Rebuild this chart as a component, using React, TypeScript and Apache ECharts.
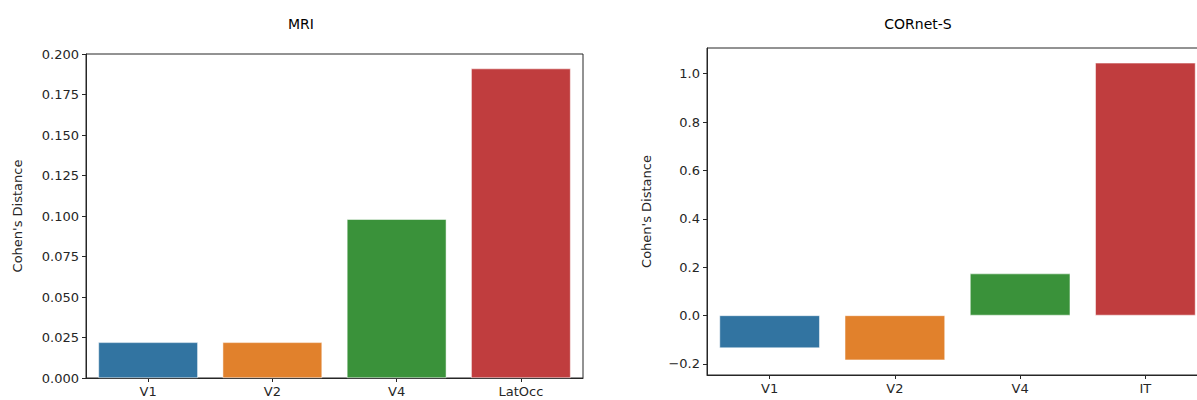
import React, { useEffect, useRef } from "react";
import * as echarts from "echarts";

const categoriesMRI = ["V1", "V2", "V4", "LatOcc"];
const valuesMRI = [0.022, 0.022, 0.098, 0.191];
const ticksMRI = [0, 0.025, 0.05, 0.075, 0.1, 0.125, 0.15, 0.175, 0.2];

const categoriesCOR = ["V1", "V2", "V4", "IT"];
const valuesCOR = [-0.135, -0.185, 0.173, 1.045];
const ticksCOR = [-0.2, 0, 0.2, 0.4, 0.6, 0.8, 1.0];

const barColors = ["#3274a1", "#e1812c", "#3a923a", "#c03d3e"];

const FONT = "DejaVu Sans";
const axisColor = "#262626";

export default function App() {
  const ref = useRef<HTMLDivElement>(null);
  useEffect(() => {
    document.body.style.margin = "0";
    document.body.style.overflow = "hidden";
    document.documentElement.style.overflow = "hidden";
    const chart = echarts.init(ref.current!, null, { renderer: "svg" });
    const yAxisCommon = (ticks: number[], digits: number, gap: number) => ({
      type: "value" as const,
      name: "Cohen's Distance",
      nameLocation: "middle" as const,
      nameRotate: 90,
      nameGap: gap,
      nameTextStyle: { fontFamily: FONT, fontSize: 13, color: axisColor },
      axisLine: { show: true, lineStyle: { color: axisColor, width: 1 } },
      axisTick: { show: true, length: 4, lineStyle: { color: axisColor }, customValues: ticks },
      axisLabel: {
        fontFamily: FONT,
        fontSize: 13,
        color: axisColor,
        margin: 7,
        customValues: ticks,
        formatter: (v: number) => (Math.abs(v) < 1e-9 ? 0 : v).toFixed(digits).replace("-", "\u2212"),
      },
      splitLine: { show: false },
    });
    const xAxisCommon = (cats: string[]) => ({
      type: "category" as const,
      data: cats,
      axisLine: { show: true, onZero: false, lineStyle: { color: axisColor, width: 1 } },
      axisTick: { show: true, alignWithLabel: true, length: 4, lineStyle: { color: axisColor } },
      axisLabel: { fontFamily: FONT, fontSize: 13, color: axisColor, margin: 7 },
    });
    chart.setOption({
      animation: false,
      backgroundColor: "#ffffff",
      title: [
        { text: "MRI", left: 296, top: 12, textAlign: "center", textStyle: { fontFamily: FONT, fontSize: 14, fontWeight: "normal", color: "#000" } },
        { text: "CORnet-S", left: 913, top: 12, textAlign: "center", textStyle: { fontFamily: FONT, fontSize: 14, fontWeight: "normal", color: "#000" } },
      ],
      grid: [
        { left: 86, top: 54, width: 497, height: 324, show: true, borderColor: axisColor, borderWidth: 1 },
        { left: 707, top: 48, width: 501, height: 327, show: true, borderColor: axisColor, borderWidth: 1 },
      ],
      xAxis: [
        { ...xAxisCommon(categoriesMRI), gridIndex: 0 },
        { ...xAxisCommon(categoriesCOR), gridIndex: 1 },
      ],
      yAxis: [
        { ...yAxisCommon(ticksMRI, 3, 62), gridIndex: 0, min: 0, max: 0.2 },
        { ...yAxisCommon(ticksCOR, 1, 54), gridIndex: 1, min: -0.2465, max: 1.1065 },
      ],
      series: [
        {
          type: "bar",
          xAxisIndex: 0,
          yAxisIndex: 0,
          barWidth: "80%",
          data: valuesMRI.map((v, i) => ({ value: v, itemStyle: { color: barColors[i] } })),
          itemStyle: { borderColor: "#ffffff", borderWidth: 0.5 },
        },
        {
          type: "bar",
          xAxisIndex: 1,
          yAxisIndex: 1,
          barWidth: "80%",
          data: valuesCOR.map((v, i) => ({ value: v, itemStyle: { color: barColors[i] } })),
          itemStyle: { borderColor: "#ffffff", borderWidth: 0.5 },
        },
      ],
    });
    return () => chart.dispose();
  }, []);
  return <div ref={ref} style={{ width: 1240, height: 400 }} />;
}
